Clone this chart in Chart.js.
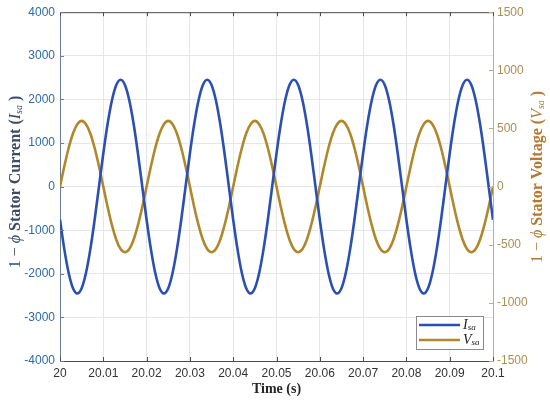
<!DOCTYPE html>
<html><head><meta charset="utf-8">
<script src="https://cdn.jsdelivr.net/npm/chart.js@4.4.1/dist/chart.umd.min.js"></script>
<style>html,body{margin:0;padding:0;background:#fff}#wrap{width:550px;height:401px;position:relative}</style>
</head><body><div id="wrap"><canvas id="c"></canvas></div>
<script>
const timeS = [20.000,20.001,20.002,20.003,20.004,20.005,20.006,20.007,20.008,20.009,
20.010,20.011,20.012,20.013,20.014,20.015,20.016,20.017,20.018,20.019,
20.020,20.021,20.022,20.023,20.024,20.025,20.026,20.027,20.028,20.029,
20.030,20.031,20.032,20.033,20.034,20.035,20.036,20.037,20.038,20.039,
20.040,20.041,20.042,20.043,20.044,20.045,20.046,20.047,20.048,20.049,
20.050,20.051,20.052,20.053,20.054,20.055,20.056,20.057,20.058,20.059,
20.060,20.061,20.062,20.063,20.064,20.065,20.066,20.067,20.068,20.069,
20.070,20.071,20.072,20.073,20.074,20.075,20.076,20.077,20.078,20.079,
20.080,20.081,20.082,20.083,20.084,20.085,20.086,20.087,20.088,20.089,
20.090,20.091,20.092,20.093,20.094,20.095,20.096,20.097,20.098,20.099,20.100];
const currentIsa = [-760,-1440,-1980,-2330,-2450,-2330,-1980,-1440,-760,0,760,1440,1980,2330,2450,2330,1980,1440,760,0,
-760,-1440,-1980,-2330,-2450,-2330,-1980,-1440,-760,0,760,1440,1980,2330,2450,2330,1980,1440,760,0,
-760,-1440,-1980,-2330,-2450,-2330,-1980,-1440,-760,0,760,1440,1980,2330,2450,2330,1980,1440,760,0,
-760,-1440,-1980,-2330,-2450,-2330,-1980,-1440,-760,0,760,1440,1980,2330,2450,2330,1980,1440,760,0,
-760,-1440,-1980,-2330,-2450,-2330,-1980,-1440,-760,0,760,1440,1980,2330,2450,2330,1980,1440,760,0,-760];
const voltageVsa = [0,175,332,457,537,565,537,457,332,175,0,-175,-332,-457,-537,-565,-537,-457,-332,-175,
0,175,332,457,537,565,537,457,332,175,0,-175,-332,-457,-537,-565,-537,-457,-332,-175,
0,175,332,457,537,565,537,457,332,175,0,-175,-332,-457,-537,-565,-537,-457,-332,-175,
0,175,332,457,537,565,537,457,332,175,0,-175,-332,-457,-537,-565,-537,-457,-332,-175,
0,175,332,457,537,565,537,457,332,175,0,-175,-332,-457,-537,-565,-537,-457,-332,-175,0];
const xTicks = [20,20.01,20.02,20.03,20.04,20.05,20.06,20.07,20.08,20.09,20.1];
const yLeftTicks = [-4000,-3000,-2000,-1000,0,1000,2000,3000,4000];
const yRightTicks = [-1500,-1000,-500,0,500,1000,1500];
const seriesLabels = [['I','sa'],['V','sa']];
const seriesColors = ['#2b4fb3','#b0882c'];

const toXY = (ys) => ys.map((y,i)=>({x:timeS[i], y:y}));

function drawRich(ctx, segs, align){
  let w = 0;
  segs.forEach(s=>{ctx.font=s.f; w+=ctx.measureText(s.t).width;});
  let x = align==='center' ? -w/2 : 0;
  segs.forEach(s=>{ctx.font=s.f; ctx.fillText(s.t, x, s.dy||0); x+=ctx.measureText(s.t).width;});
}
const SERIF = '"Liberation Serif","DejaVu Serif",serif';
function titleSegs(word, sym){
  return [
    {t:'1 \u2212 ', f:'16px '+SERIF},
    {t:'\u03d5', f:'italic 16px '+SERIF},
    {t:' Stator '+word+' (', f:'bold 16px '+SERIF},
    {t:sym, f:'italic 16px '+SERIF},
    {t:'sa', f:'italic 10px '+SERIF, dy:3},
    {t:' )', f:'bold 16px '+SERIF}
  ];
}

const decor = {
  id:'decor',
  afterDraw(chart){
    const ctx = chart.ctx, a = chart.chartArea;
    const sx = chart.scales.x, sy = chart.scales.y, sy1 = chart.scales.y1;
    ctx.save();
    ctx.strokeStyle = '#4d4d4d'; ctx.lineWidth = 1;
    ctx.beginPath(); ctx.moveTo(a.left, a.top+0.5); ctx.lineTo(a.right, a.top+0.5); ctx.stroke();
    xTicks.forEach(v=>{
      const px = Math.round(sx.getPixelForValue(v))+0.5;
      ctx.beginPath();
      ctx.moveTo(px, a.top); ctx.lineTo(px, a.top+4);
      ctx.moveTo(px, a.bottom); ctx.lineTo(px, a.bottom-4);
      ctx.stroke();
    });
    ctx.strokeStyle = '#6a7d95';
    yLeftTicks.forEach(v=>{
      const py = Math.round(sy.getPixelForValue(v))+0.5;
      ctx.beginPath(); ctx.moveTo(a.left, py); ctx.lineTo(a.left+4, py); ctx.stroke();
    });
    ctx.strokeStyle = '#c9ad78';
    yRightTicks.forEach(v=>{
      const py = Math.round(sy1.getPixelForValue(v))+0.5;
      ctx.beginPath(); ctx.moveTo(a.right, py); ctx.lineTo(a.right-4, py); ctx.stroke();
    });
    const bx = 416, by = 316, bw = 67, bh = 33;
    ctx.fillStyle = '#fff'; ctx.fillRect(bx, by, bw, bh);
    ctx.strokeStyle = '#8a8a8a'; ctx.lineWidth = 1;
    ctx.strokeRect(bx+0.5, by+0.5, bw, bh);
    chart.data.datasets.forEach((ds,i)=>{
      const yy = by + 9 + i*15;
      ctx.strokeStyle = ds.borderColor; ctx.lineWidth = 2.5;
      ctx.beginPath(); ctx.moveTo(bx+3, yy); ctx.lineTo(bx+44, yy); ctx.stroke();
      ctx.fillStyle = '#222'; ctx.textBaseline = 'middle'; ctx.textAlign='left';
      ctx.save(); ctx.translate(bx+47, yy);
      drawRich(ctx, [{t:seriesLabels[i][0], f:'italic 14px '+SERIF},{t:seriesLabels[i][1], f:'italic 9px '+SERIF, dy:3}], 'left');
      ctx.restore();
    });
    ctx.textBaseline = 'middle'; ctx.textAlign = 'left';
    ctx.fillStyle = '#3c4a66';
    ctx.save(); ctx.translate(16, 182); ctx.rotate(-Math.PI/2);
    drawRich(ctx, titleSegs('Current','I'), 'center'); ctx.restore();
    ctx.fillStyle = '#b5782e';
    ctx.save(); ctx.translate(538, 177); ctx.rotate(-Math.PI/2);
    drawRich(ctx, titleSegs('Voltage','V'), 'center'); ctx.restore();
    ctx.fillStyle = '#262626';
    ctx.save(); ctx.translate((a.left+a.right)/2, 389);
    drawRich(ctx, [{t:'Time (s)', f:'bold 14px '+SERIF}], 'center'); ctx.restore();
    ctx.restore();
  }
};

new Chart(document.getElementById('c'), {
  type:'line',
  data:{datasets:[
    {label:'Isa', data:toXY(currentIsa), yAxisID:'y', borderColor:seriesColors[0], borderWidth:2.6, pointRadius:0, cubicInterpolationMode:'monotone', fill:false},
    {label:'Vsa', data:toXY(voltageVsa), yAxisID:'y1', borderColor:seriesColors[1], borderWidth:2.6, pointRadius:0, cubicInterpolationMode:'monotone', fill:false}
  ]},
  options:{
    responsive:true, maintainAspectRatio:false, animation:false,
    layout:{padding:{top:11,left:0,right:0,bottom:0}},
    plugins:{legend:{display:false}, tooltip:{enabled:false}},
    scales:{
      x:{type:'linear', min:20, max:20.1,
        afterBuildTicks:s=>{s.ticks = xTicks.map(v=>({value:v}));},
        afterFit:s=>{s.height=40;},
        ticks:{callback:v=>String(v), color:'#333', font:{family:'"Liberation Sans",Arial,sans-serif', size:12}, padding:5, maxRotation:0, autoSkip:false},
        grid:{color:'#e6e6e6', drawTicks:false},
        border:{color:'#4d4d4d'}},
      y:{type:'linear', position:'left', min:-4000, max:4000,
        afterBuildTicks:s=>{s.ticks = yLeftTicks.map(v=>({value:v}));},
        afterFit:s=>{s.width=60;},
        ticks:{callback:v=>String(v), color:'#2d6aa3', font:{family:'"Liberation Sans",Arial,sans-serif', size:12}, padding:5},
        grid:{color:'#e6e6e6', drawTicks:false},
        border:{color:'#6a7d95'}},
      y1:{type:'linear', position:'right', min:-1500, max:1500,
        afterBuildTicks:s=>{s.ticks = yRightTicks.map(v=>({value:v}));},
        afterFit:s=>{s.width=57;},
        ticks:{callback:v=>String(v), color:'#a88f55', font:{family:'"Liberation Sans",Arial,sans-serif', size:12}, padding:4},
        grid:{drawOnChartArea:false, drawTicks:false},
        border:{color:'#c9ad78'}}
    }
  },
  plugins:[decor]
});
</script></body></html>
